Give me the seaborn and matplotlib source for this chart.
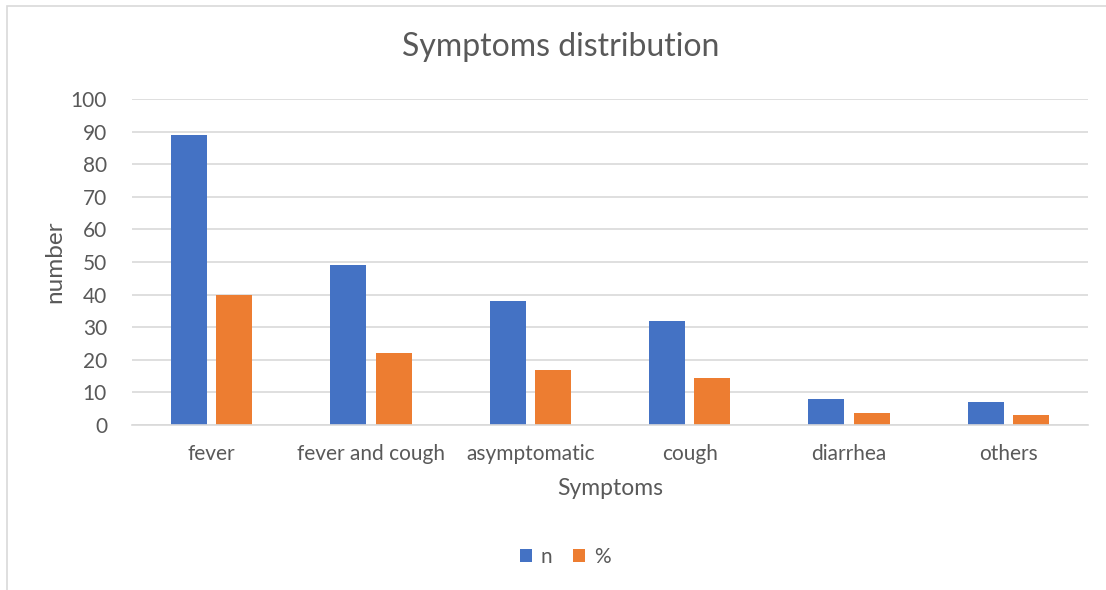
import pandas as pd
import matplotlib.pyplot as plt
import seaborn as sns
from matplotlib.patches import Rectangle

# values
symptoms = ["fever", "fever and cough", "asymptomatic", "cough", "diarrhea", "others"]
counts = [89, 49, 38, 32, 8, 7]
percents = [39.9, 22.0, 17.0, 14.3, 3.6, 3.1]

df = pd.DataFrame({
    "Symptoms": symptoms * 2,
    "value": counts + percents,
    "series": ["n"] * len(symptoms) + ["%"] * len(symptoms),
})

sns.set_style("white")
plt.rcParams["font.family"] = ["Lato", "DejaVu Sans"]
text_grey = "#595959"
grid_grey = "#D9D9D9"

fig = plt.figure(figsize=(11.06, 5.9), dpi=100)
ax = fig.add_axes([132 / 1106, 1 - 425 / 590, 956 / 1106, 326 / 590])

sns.barplot(data=df, x="Symptoms", y="value", hue="series",
            palette={"n": "#4472C4", "%": "#ED7D31"},
            width=0.565, gap=0.2, saturation=1, linewidth=0,
            ax=ax, legend=True)

ax.set_ylim(0, 100)
ax.set_yticks(range(0, 101, 10))
ax.set_xlim(-0.5, len(symptoms) - 0.5)
ax.yaxis.grid(True, color=grid_grey, linewidth=1.2)
ax.set_axisbelow(True)
for side in ["left", "right", "top"]:
    ax.spines[side].set_visible(False)
ax.spines["bottom"].set_color(grid_grey)
ax.spines["bottom"].set_linewidth(1.2)
ax.tick_params(axis="both", length=0, labelsize=15, colors=text_grey)
ax.tick_params(axis="x", pad=14)
ax.tick_params(axis="y", pad=18)

fig.suptitle("Symptoms distribution", fontsize=23, color=text_grey,
             x=561 / 1106, y=1 - 47 / 590, va="center")
ax.set_xlabel("Symptoms", fontsize=16.5, color=text_grey, labelpad=10)
ax.set_ylabel("number", fontsize=17.5, color=text_grey, labelpad=4)

handles, labels = ax.get_legend_handles_labels()
ax.get_legend().remove()
fig.legend(handles, labels, loc="center", bbox_to_anchor=(565 / 1106, 1 - 557 / 590), ncol=2,
           frameon=False, fontsize=15, labelcolor=text_grey,
           handlelength=0.6, handleheight=0.6, handletextpad=0.4, columnspacing=1.0)

# light chart-area border like the reference
fig.patches.append(Rectangle((7 / 1106, -0.1), 1.1, 1 - 6 / 590 + 0.1,
                             transform=fig.transFigure, fill=False,
                             edgecolor=grid_grey, linewidth=1.2))

fig.savefig("out.png", dpi=100)
plt.close(fig)
